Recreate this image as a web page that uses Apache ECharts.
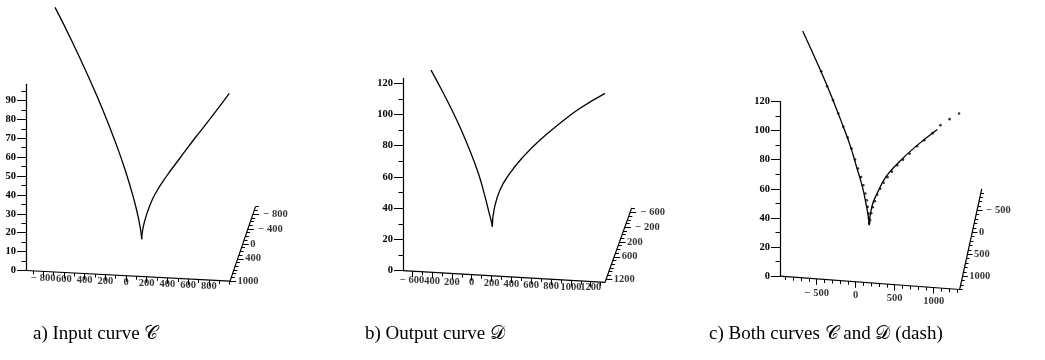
<!DOCTYPE html>
<html><head><meta charset="utf-8">
<script src="https://cdn.jsdelivr.net/npm/echarts@6/dist/echarts.min.js"></script>
<style>html,body{margin:0;padding:0;background:#fff}#c{width:1045px;height:360px}</style>
</head><body><div id="c"></div>
<script>
// ---------------- DATA ----------------
// Curves given as [x, z] on the front plane of each 3-D box.
// a) Input curve C
const inputA_left  = [[-686,140.1],[-528,123.3],[-349,102.6],[-224,87.1],[-110,71.5],[-8,55.9],[78,40.3],[124,29.8],[144,23.5],[152,19.7]];
const inputA_right = [[152,19.7],[161,24.7],[189,31.1],[232,38.1],[287,44.6],[393,53.9],[522,63.8],[667,74.8],[812,85.3],[998,99.4]];
// b) Output curve D
const outputB_left  = [[-410,129.4],[-302,117.0],[-151,98.4],[-34,81.7],[67,65.1],[134,50.4],[177,39.9],[202,33.6],[208,31.4]];
const outputB_right = [[208,31.4],[225,42.2],[285,55.2],[386,66.3],[520,77.4],[689,88.7],[890,100.1],[1092,110.4],[1344,120.9]];
// c) Both curves: C solid, D dashed (dots)
const bothC_left  = [[-680,169.6],[-442,142.4],[-291,123.6],[-159,105.8],[-65,92.4],[11,79.0],[86,65.5],[131,54.3],[162,45.2],[173,39.6]];
const bothC_right = [[173,39.6],[206,52.3],[274,61.7],[387,73.6],[538,83.4],[764,95.7],[1047,108.8]];
const bothD = [[-442,142.9],[-367,132.9],[-291,123.6],[-223,114.7],[-159,105.8],[-102,98.7],[-53,91.3],[-8,84.0],[29,77.9],[68,72.3],[97,66.7],[124,61.1],[142,56.6],[154,52.1],[165,47.6],[170,44.2],[173,41.1],
  [184,43.0],[199,47.9],[219,52.1],[245,56.3],[275,60.9],[313,65.2],[358,69.5],[408,73.5],[464,77.5],[532,82.2],[607,86.3],[691,90.7],[785,96.2],[879,100.7],[985,106.0],[1087,111.9],[1204,116.5],[1325,120.8]];

// Tick labels
const zTicksA = [0,10,20,30,40,50,60,70,80,90];
const zTicksB = [0,20,40,60,80,100,120];
const zTicksC = [0,20,40,60,80,100,120];
const frontTicksA  = [-800,-600,-400,-200,0,200,400,600,800];
const frontLabelsA = ['− 800','600','400','200','0','200','400','600','800'];
const depthTicksA  = [-800,-400,0,400,1000];
const depthLabelsA = ['− 800','− 400','0','400','1000'];
const frontTicksB  = [-600,-400,-200,0,200,400,600,800,1000,1200];
const frontLabelsB = ['− 600','400','200','0','200','400','600','800','1000','1200'];
const depthTicksB  = [-600,-200,200,600,1200];
const depthLabelsB = ['− 600','− 200','200','600','1200'];
const frontTicksC  = [-500,0,500,1000];
const frontLabelsC = ['− 500','0','500','1000'];
const depthTicksC  = [-500,0,500,1000];
const depthLabelsC = ['− 500','0','500','1000'];

const captions = ['a) Input curve 𝒞', 'b) Output curve 𝒟', 'c) Both curves 𝒞 and 𝒟 (dash)'];

// ---------------- LAYOUT / PROJECTION ----------------
const FONT = 'Liberation Serif, DejaVu Serif, serif';
const W = 300;
const panels = [
  {axisPx:26,  x0Px:126,   ax:0.1035, slope:0.052,  sz:1.889, z0Py:270.5, zTop:98.6, zStep:10, xMax:1005, yFront:1000, yBack:-1000, dDx:25.5, dDy:-74.5, lblDrop:[7,6.5],
   zTicks:zTicksA, fT:frontTicksA, fL:frontLabelsA, dT:depthTicksA, dL:depthLabelsA, capLeft:33},
  {axisPx:403, x0Px:471.7, ax:0.0992, slope:0.0575, sz:1.563, z0Py:270.7, zTop:123, zStep:20, xMax:1344, yFront:1290, yBack:-720, dDx:26.7, dDy:-74.4, lblDrop:[9,6],
   zTicks:zTicksB, fT:frontTicksB, fL:frontLabelsB, dT:depthTicksB, dL:depthLabelsB, capLeft:365},
  {axisPx:780, x0Px:865.7, ax:0.0883, slope:0.0654, sz:1.456, z0Py:276.2, zTop:120, zStep:20, xMax:1333, yFront:1300, yBack:-990, dDx:25, dDy:-100.7, lblDrop:[14,13.5],
   zTicks:zTicksC, fT:frontTicksC, fL:frontLabelsC, dT:depthTicksC, dL:depthLabelsC, capLeft:709}
];
const curves = [
  {solid:[inputA_left, inputA_right], dots:null},
  {solid:[outputB_left, outputB_right], dots:null},
  {solid:[bothC_left, bothC_right], dots:bothD}
];

const grids = [], xAxes = [], yAxes = [], series = [], titles = [];
const lblStyle = {color:'#000', fontFamily:FONT, fontSize:10.5, fontWeight:'bold'};

panels.forEach((p, i) => {
  const xMin = (p.axisPx - p.x0Px) / p.ax;
  // project a 3-D point (x, depth y, z) into this grid's (pixel, z) coordinates
  const P = (x, y, z, dxPx = 0, dyPx = 0) => {
    const t = (p.yFront - y) / (p.yFront - p.yBack);
    const fx = p.ax * x + p.x0Px - p.axisPx;
    return [fx + t * p.dDx + dxPx, z - (p.slope * fx + t * p.dDy + dyPx) / p.sz];
  };
  const idx = {xAxisIndex:i, yAxisIndex:i};
  const h = p.sz * p.zTop;
  grids.push({left:p.axisPx, top:p.z0Py - h, width:W, height:h});
  xAxes.push({gridIndex:i, type:'value', min:0, max:W, show:false});
  yAxes.push({gridIndex:i, type:'value', min:0, max:p.zTop, interval:p.zStep,
    axisLine:{show:true, onZero:false, lineStyle:{color:'#000', width:1.2}},
    axisTick:{show:true, inside:false, length:9, customValues:p.zTicks, lineStyle:{color:'#000', width:1}},
    minorTick:{show:true, splitNumber:2, length:4.5, lineStyle:{color:'#000', width:1}},
    axisLabel:Object.assign({customValues:p.zTicks, margin:10}, lblStyle),
    splitLine:{show:false}, minorSplitLine:{show:false}});

  // frame: front axis and depth axis
  series.push({type:'line', ...idx, data:[P(xMin,p.yFront,0), P(p.xMax,p.yFront,0), P(p.xMax,p.yBack,0)],
    symbol:'none', clip:false, silent:true, lineStyle:{color:'#000', width:1.2}});

  // ticks
  const segs = [];
  for (let x = Math.ceil(xMin/100)*100; x <= p.xMax; x += 100) {
    const L = p.fT.includes(x) ? 6 : 3.5;
    segs.push({coords:[P(x,p.yFront,0), P(x,p.yFront,0,0,L)]});
  }
  for (let y = Math.ceil(p.yBack/100)*100; y <= p.yFront; y += 100) {
    const L = p.dT.includes(y) ? 6 : 3.5;
    segs.push({coords:[P(p.xMax,y,0), P(p.xMax,y,0,L,0)]});
  }
  series.push({type:'lines', coordinateSystem:'cartesian2d', ...idx, data:segs, clip:false, silent:true,
    lineStyle:{color:'#000', width:1, opacity:1, curveness:0}});

  // front labels
  series.push({type:'scatter', ...idx, clip:false, silent:true, symbolSize:1, itemStyle:{color:'rgba(0,0,0,0)'},
    data:p.fT.map((x, k) => {
      const t = (x - xMin) / (p.xMax - xMin);
      const drop = p.lblDrop[0] + (p.lblDrop[1] - p.lblDrop[0]) * t;
      return {name:p.fL[k], value:P(x, p.yFront, 0, 0, drop)};
    }),
    label:Object.assign({show:true, position:'inside', formatter:'{b}'}, lblStyle)});
  // depth labels
  series.push({type:'scatter', ...idx, clip:false, silent:true, symbolSize:1, itemStyle:{color:'rgba(0,0,0,0)'},
    data:p.dT.map((y, k) => ({name:p.dL[k], value:P(p.xMax, y, 0, y < 0 ? 10 : 7, 0)})),
    label:Object.assign({show:true, position:'right', distance:0, formatter:'{b}'}, lblStyle)});

  // curves
  curves[i].solid.forEach(br => {
    series.push({type:'line', ...idx, data:br.map(d => P(d[0], p.yFront, d[1])), symbol:'none', smooth:0.5,
      clip:false, silent:true, lineStyle:{color:'#000', width:1.3}});
  });
  if (curves[i].dots) {
    series.push({type:'scatter', ...idx, data:curves[i].dots.map(d => P(d[0], p.yFront, d[1])), symbol:'circle',
      symbolSize:2.6, clip:false, silent:true, itemStyle:{color:'#000'}});
  }
  titles.push({text:captions[i], left:p.capLeft, top:325, padding:0,
    textStyle:{color:'#000', fontFamily:FONT, fontSize:19, fontWeight:'normal'}});
});

const chart = echarts.init(document.getElementById('c'), null, {renderer:'canvas'});
chart.setOption({animation:false, backgroundColor:'#fff', title:titles, grid:grids, xAxis:xAxes, yAxis:yAxes, series:series});
</script>
</body></html>
